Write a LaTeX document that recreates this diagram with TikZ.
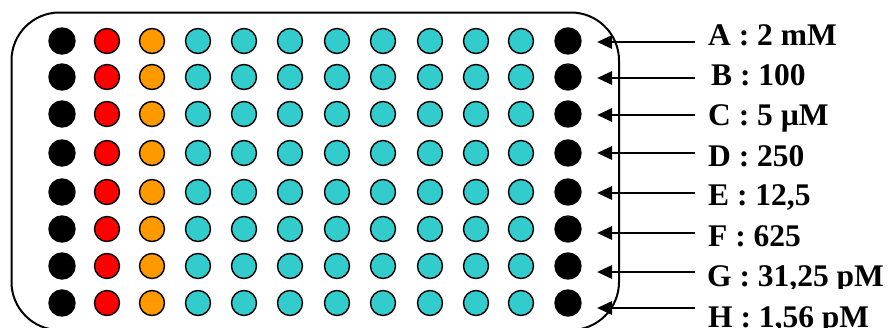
\documentclass[tikz,border=0pt]{standalone}
\usepackage{fontspec}
\setmainfont{Liberation Serif}
\usetikzlibrary{arrows.meta}
\begin{document}
\begin{tikzpicture}[x=1pt,y=-1pt,
  well/.style={circle,draw=black,line width=1.4pt,minimum size=25pt,inner sep=0pt},
  blackwell/.style={well,fill=black,minimum size=26pt},
  redwell/.style={well,fill=red},
  orangewell/.style={well,fill={rgb,255:red,255;green,153;blue,0}},
  cyanwell/.style={well,fill={rgb,255:red,51;green,204;blue,204}},
  conc/.style={anchor=base west,inner sep=0pt,font=\fontsize{31.5}{33}\selectfont\bfseries},
  pointer/.style={line width=2.8pt,-{Triangle[length=15pt,width=13pt]}},
  frame/.style={line width=2pt,rounded corners=48pt}]
\useasboundingbox (0,0) rectangle (889,327);
\draw[frame] (11.5,12.5) rectangle (619,330);
% wells
\foreach \r/\y in {1/41,2/77,3/114,4/153,5/192,6/229,7/266,8/303}{
  \node[blackwell] (w\r-1) at (62,\y) {};
  \node[redwell] (w\r-2) at (107,\y) {};
  \node[orangewell] (w\r-3) at (152,\y) {};
  \foreach \c/\x in {4/198,5/244,6/290,7/337,8/383,9/430,10/476,11/521}{
    \node[cyanwell] (w\r-\c) at (\x,\y) {};
  }
  \node[blackwell] (w\r-12) at (568,\y) {};
}
% labels
\node[conc] (lA) at (708,45) {A : 2 mM};
\node[conc] (lB) at (711,85) {B : 100};
\node[conc] (lC) at (708,125) {C : 5 µM};
\node[conc] (lD) at (708,166) {D : 250};
\node[conc] (lE) at (708,205) {E : 12,5};
\node[conc] (lF) at (708,246) {F : 625};
\begin{scope}
\clip (690,250) rectangle (889,288);
\node[conc] (lG) at (707,286) {G : 31,25 pM};
\end{scope}
\node[conc] (lH) at (708,327) {H : 1,56 pM};
% arrows
\foreach \k/\y in {A/42,B/78,C/115,D/153,E/193,F/233,G/272,H/308}{
  \coordinate (s\k) at (695,\y);
  \coordinate (t\k) at (597,\y);
  \draw[pointer] (s\k) -- (t\k);
}
\end{tikzpicture}
\end{document}
